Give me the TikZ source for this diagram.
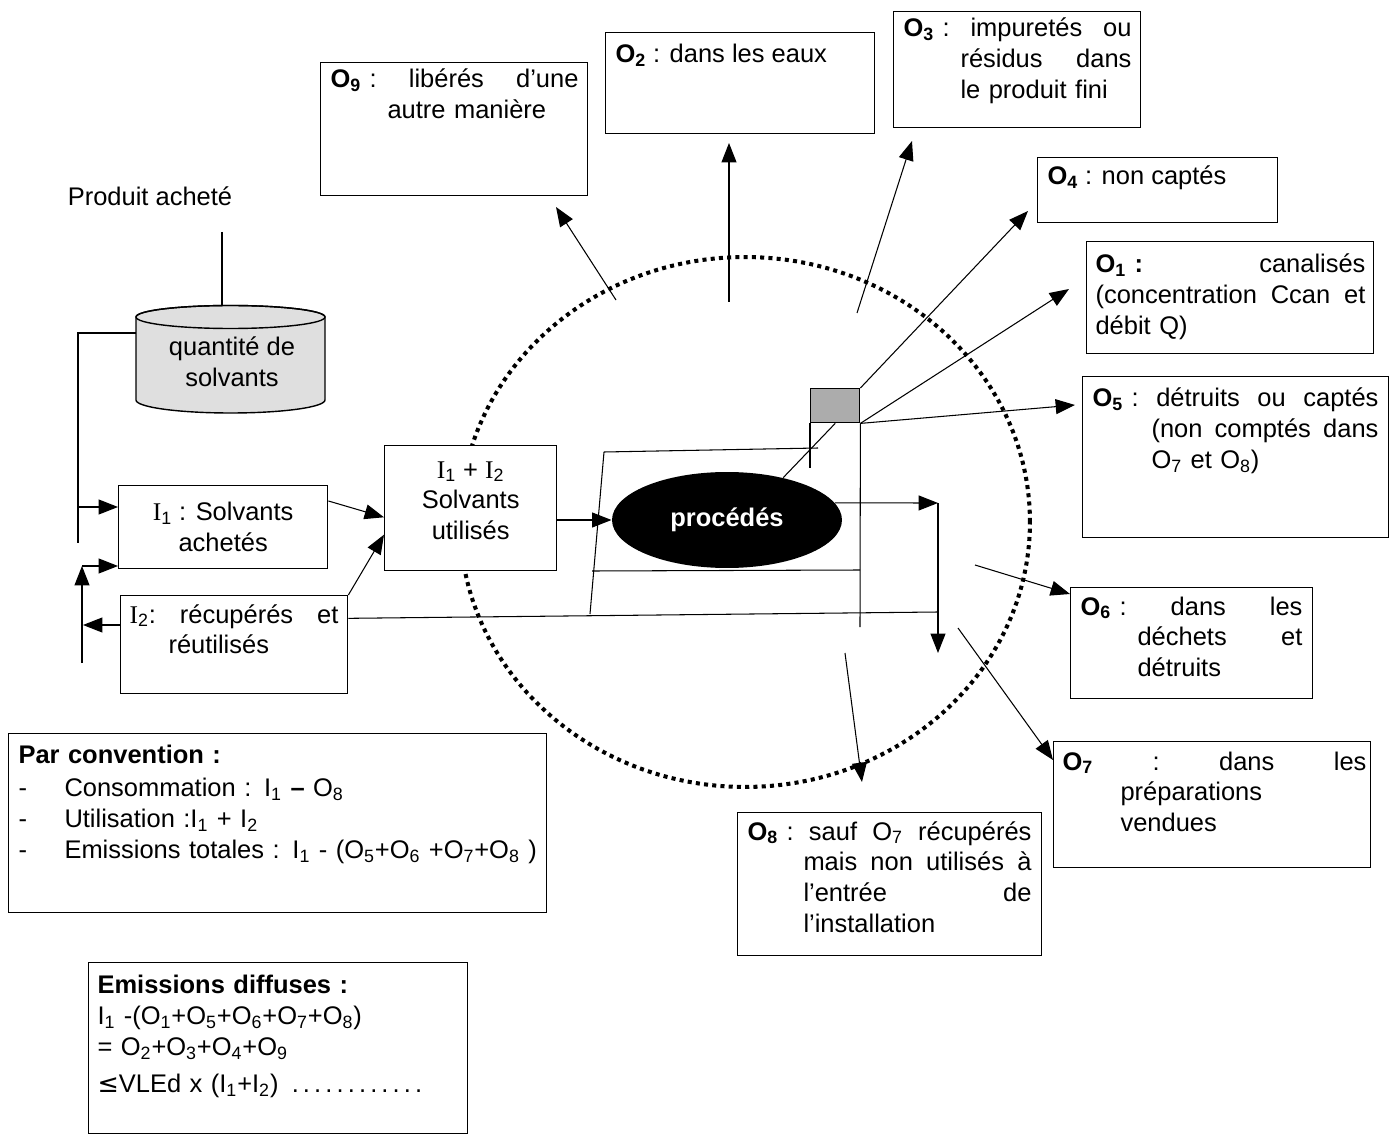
\documentclass[tikz,border=0pt]{standalone}
\usepackage{fontspec}
\setmainfont{Liberation Sans}
\newfontfamily\romain{Liberation Serif}
\newfontfamily\symb{DejaVu Sans}
\usetikzlibrary{arrows.meta,shapes.geometric}

\newcommand{\Ob}[1]{\textbf{O\textsubscript{#1}}}
\newcommand{\On}[1]{O\textsubscript{#1}}
\newcommand{\In}[1]{I\textsubscript{#1}}
\newcommand{\Ir}[1]{{\romain I}\textsubscript{#1}}

\begin{document}
\begin{tikzpicture}[x=0.02cm,y=-0.02cm,line width=0.6pt,font=\fontsize{14.5}{17.5}\selectfont]
  \tikzstyle{boite} = [draw,line width=0.8pt,fill=white,rectangle,anchor=north west,inner sep=0pt]
  \tikzstyle{texte} = [anchor=base west,inner sep=0pt,align=left]
  \tikzstyle{fleche} = [-{Triangle[length=11pt,width=8.5pt]}]
  \tikzstyle{pointille} = [line width=2.3pt,dash pattern=on 2.3pt off 2.4pt]
  \useasboundingbox (0,0) rectangle (1394,1135);

  % limite de l'installation
  \draw[pointille] (745,522) ellipse [x radius=5.7cm,y radius=5.3cm];

  % stock de solvants
  \node (produit) at (150,196) {Produit acheté};
  \filldraw[fill=gray!25,line width=0.8pt] (136,317) -- (136,400)
    arc[start angle=180,end angle=360,x radius=1.89cm,y radius=0.26cm] -- (325,317)
    arc[start angle=0,end angle=180,x radius=1.89cm,y radius=0.23cm] -- cycle;
  \draw[line width=0.8pt] (230.5,317) ellipse [x radius=1.89cm,y radius=0.23cm];
  \node[align=center] (qte) at (232,362) {quantité de\\solvants};
  \coordinate (cuveh) at (222,306);
  \coordinate (cuveg) at (136,333);

  % entrees
  \node[boite,minimum width=4.18cm,minimum height=1.66cm] (iun) at (118,485) {};
  \node[align=center] (iunt) at (iun.center) {\Ir{1} : Solvants\\achetés};
  \node[boite,minimum width=4.54cm,minimum height=1.96cm] (ideux) at (120,595) {};
  \node[texte,text width=4.18cm] (ideuxt) at (129,623) {\Ir{2}:\hfill récupérés\hfill et\\\hspace*{0.78cm}réutilisés};
  \node[boite,minimum width=3.44cm,minimum height=2.5cm] (iutil) at (384,445) {};
  \node[align=center] (iutilt) at ([yshift=0.15cm]iutil.center) {\Ir{1} + \Ir{2}\\Solvants\\utilisés};

  % procedes
  \node[ellipse,fill=black,text=white,minimum width=4.6cm,minimum height=1.92cm] (proc) at (727,520) {\textbf{procédés}};
  \node[draw,fill=gray!65,line width=0.8pt,minimum width=0.98cm,minimum height=0.68cm,anchor=north west,inner sep=0pt] (grille) at (810,388) {};
  \draw (604,452) -- (818,448);
  \draw (604,452) -- (590,614);
  \draw (592,571) -- (860,570);
  \draw (grille.south east) -- (860,627);
  \draw (grille.south west) -- ++(0,45);
  \draw (proc.37) -- (grille.south);

  % sorties
  \node[boite,minimum width=5.34cm,minimum height=2.66cm] (o9) at (320,62) {};
  \node[texte,text width=4.96cm] (o9t) at (330,88) {\Ob{9} :\hfill libérés\hfill d'une\\\hspace*{1.14cm}autre manière};
  \node[boite,minimum width=5.38cm,minimum height=2.02cm] (o2) at (605,32) {};
  \node[texte] (o2t) at (615,63) {\Ob{2} : dans les eaux};
  \node[boite,minimum width=4.94cm,minimum height=2.32cm] (o3) at (893,11) {};
  \node[texte,text width=4.56cm] (o3t) at (903,37) {\Ob{3} :\hfill impuretés\hfill ou\\\hspace*{1.14cm}résidus\hfill dans\\\hspace*{1.14cm}le produit fini};
  \node[boite,minimum width=4.8cm,minimum height=1.3cm] (o4) at (1037,157) {};
  \node[texte] (o4t) at (1047,185) {\Ob{4} : non captés};
  \node[boite,minimum width=5.74cm,minimum height=2.24cm] (o1) at (1086,241) {};
  \node[texte,text width=5.4cm] (o1t) at (1095,273) {\textbf{O\textsubscript{1} :}\hfill canalisés\\(concentration\hfill Ccan\hfill et\\débit Q)};
  \node[boite,minimum width=6.12cm,minimum height=3.22cm] (o5) at (1082,376) {};
  \node[texte,text width=5.72cm] (o5t) at (1092,407) {\Ob{5} :\hfill détruits\hfill ou\hfill captés\\\hspace*{1.18cm}(non\hfill comptés\hfill dans\\\hspace*{1.18cm}\On{7} et \On{8})};
  \node[boite,minimum width=4.84cm,minimum height=2.22cm] (o6) at (1070,587) {};
  \node[texte,text width=4.44cm] (o6t) at (1080,615) {\Ob{6} :\hfill dans\hfill les\\\hspace*{1.14cm}déchets\hfill et\\\hspace*{1.14cm}détruits};
  \node[boite,minimum width=6.34cm,minimum height=2.52cm] (o7) at (1053,741) {};
  \node[texte,text width=6.08cm] (o7t) at (1062,770) {\Ob{7}\hfill :\hfill dans\hfill les\\\hspace*{1.16cm}préparations\\\hspace*{1.16cm}vendues};
  \node[boite,minimum width=6.08cm,minimum height=2.86cm] (o8) at (737,812) {};
  \node[texte,text width=5.68cm] (o8t) at (747,840) {\Ob{8} :\hfill sauf\hfill \On{7}\hfill récupérés\\\hspace*{1.12cm}mais\hfill non\hfill utilisés\hfill à\\\hspace*{1.12cm}l’entrée\hfill de\\\hspace*{1.12cm}l’installation};

  % bilans
  \node[boite,minimum width=10.76cm,minimum height=3.58cm] (conv) at (8,733) {};
  \node[texte,text width=10.4cm] (convt) at (18,763) {\textbf{Par convention :}\\[0.06cm]
    \makebox[0.92cm][l]{-}Consommation : \In{1} \textbf{–} \On{8}\\
    \makebox[0.92cm][l]{-}Utilisation :\In{1} + \In{2}\\
    \makebox[0.92cm][l]{-}Emissions totales : \In{1} - (\On{5}+\On{6} +\On{7}+\On{8} )};
  \node[boite,minimum width=7.58cm,minimum height=3.42cm] (diff) at (88,962) {};
  \node[texte,text width=7.2cm] (difft) at (97,993) {\textbf{Emissions diffuses :}\\[0.02cm]
    \In{1} -(\On{1}+\On{5}+\On{6}+\On{7}+\On{8})\\
    = \On{2}+\On{3}+\On{4}+\On{9}\\[0.12cm]
    {\symb ≤}VLEd x (\In{1}+\In{2}) \makebox[2.8cm]{\dotfill}};

  % liaisons d'entree
  \coordinate (pa) at (222,232);
  \coordinate (g1) at (78,333);
  \coordinate (g2) at (78,543);
  \coordinate (g3) at (78,507);
  \coordinate (r1) at (82,663);
  \coordinate (r2) at (82,566);
  \coordinate (r3) at (83,625);
  \draw (pa) -- (cuveh);
  \draw (cuveg) -- (g1) -- (g2);
  \draw[fleche] (g3) -- (g3 -| iun.west);
  \draw[fleche] (r1) -- (r2);
  \draw[fleche] (r2) -- (r2 -| iun.west);
  \draw[fleche] (r3 -| ideux.west) -- (r3);
  \draw[fleche] (iun.14) -- (iutil.186);
  \draw[fleche] (ideux.north east) -- (iutil.197);
  \draw[fleche] (iutil.east |- proc.west) -- (proc.west);

  % recyclage
  \coordinate (c1) at (938,503);
  \coordinate (c2) at (938,653);
  \coordinate (c3) at (938,612);
  \draw[fleche] (proc.9) -- (c1);
  \draw[fleche] (c1) -- (c2);
  \draw (c3) -- (ideux.13);

  % emissions
  \coordinate (t4) at (1028,211);
  \coordinate (t1) at (1069,289);
  \coordinate (t5) at (1075,405);
  \coordinate (s3) at (857,313);
  \coordinate (t3) at (912,141);
  \coordinate (s2) at (729,302);
  \coordinate (t2) at (729,143);
  \coordinate (s9) at (616,300);
  \coordinate (t9) at (556,207);
  \coordinate (s6) at (975,565);
  \coordinate (t6) at (1070,594);
  \coordinate (s7) at (958,628);
  \coordinate (t7) at (1053,760);
  \coordinate (s8) at (845,653);
  \coordinate (t8) at (862,782);
  \draw[fleche] (grille.north east) -- (t4);
  \draw[fleche] (grille.south east) -- (t1);
  \draw[fleche] (grille.south east) -- (t5);
  \draw[fleche] (s3) -- (t3);
  \draw[fleche] (s2) -- (t2);
  \draw[fleche] (s9) -- (t9);
  \draw[fleche] (s6) -- (t6);
  \draw[fleche] (s7) -- (t7);
  \draw[fleche] (s8) -- (t8);
\end{tikzpicture}
\end{document}
